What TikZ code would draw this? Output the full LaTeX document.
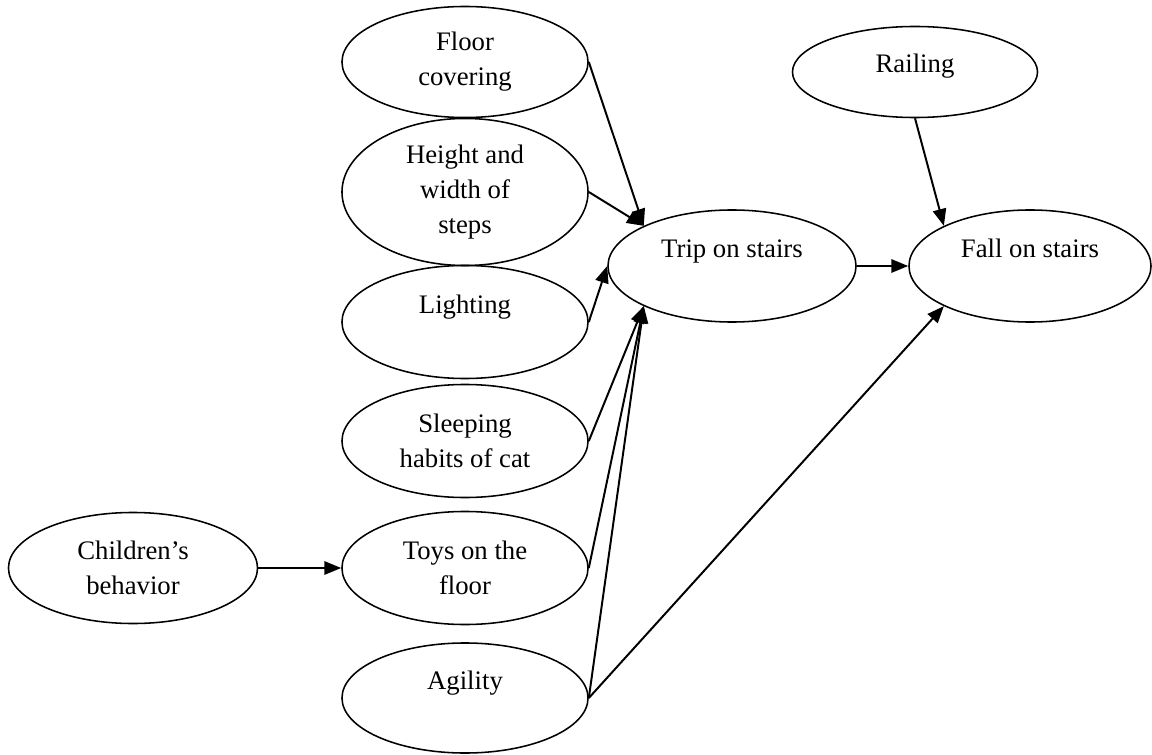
\documentclass[tikz,border=0pt]{standalone}
\usepackage{fontspec}
\setmainfont{Liberation Serif}
\usetikzlibrary{shapes.geometric,arrows.meta}

\tikzset{
	blob/.style={ellipse, draw, line width=1.1pt, inner sep=0pt, align=center,
		minimum width=6.15cm, font=\fontsize{19}{25}\selectfont},
	arr/.style={line width=1.4pt, -{Triangle[length=12pt,width=9.5pt]}}
}

\begin{document}
\begin{tikzpicture}[x=0.025cm, y=-0.025cm]
		\useasboundingbox (0,0) rectangle (1152,755);

		\node[blob, minimum height=2.775cm] (floor) at (465, 62) {Floor\\covering};
		\node[blob, minimum height=3.675cm] (height) at (465, 192) {Height and\\width of\\steps};
		\node[blob, minimum height=2.825cm] (light) at (465, 322) {Lighting\\\mbox{}};
		\node[blob, minimum height=2.825cm] (sleep) at (465, 441) {Sleeping\\habits of cat};
		\node[blob, minimum height=2.825cm] (toys) at (465, 568) {Toys on the\\floor};
		\node[blob, minimum height=2.75cm] (agil) at (465, 698) {Agility\\\mbox{}};
		\node[blob, minimum height=2.775cm, minimum width=6.225cm] (child) at (133, 568) {Children’s\\behavior};

		\node[blob, minimum height=2.8cm, minimum width=6.2cm] (trip) at (732, 266) {Trip on stairs\\\mbox{}};
		\node[blob, minimum height=2.8cm, minimum width=6.05cm] (fall) at (1030, 266) {Fall on stairs\\\mbox{}};
		\node[blob, minimum height=2.275cm, minimum width=6.125cm] (rail) at (915, 72) {Railing\\[-12pt]\mbox{}};

		\draw[arr] (floor.east) -- (trip.north west);
		\draw[arr] (height.east) -- (trip.north west);
		\draw[arr] (light.east) -- (trip.west);
		\draw[arr] (sleep.east) -- (trip.south west);
		\draw[arr] (toys.east) -- (trip.south west);
		\draw[arr] (agil.east) -- (trip.south west);
		\draw[arr] (agil.east) -- (fall.south west);
		\draw[arr] (child.east) -- (toys.west);
		\draw[arr] (trip.east) -- (fall.west);
		\draw[arr] (rail.south) -- (fall.north west);
	\end{tikzpicture}
\end{document}
